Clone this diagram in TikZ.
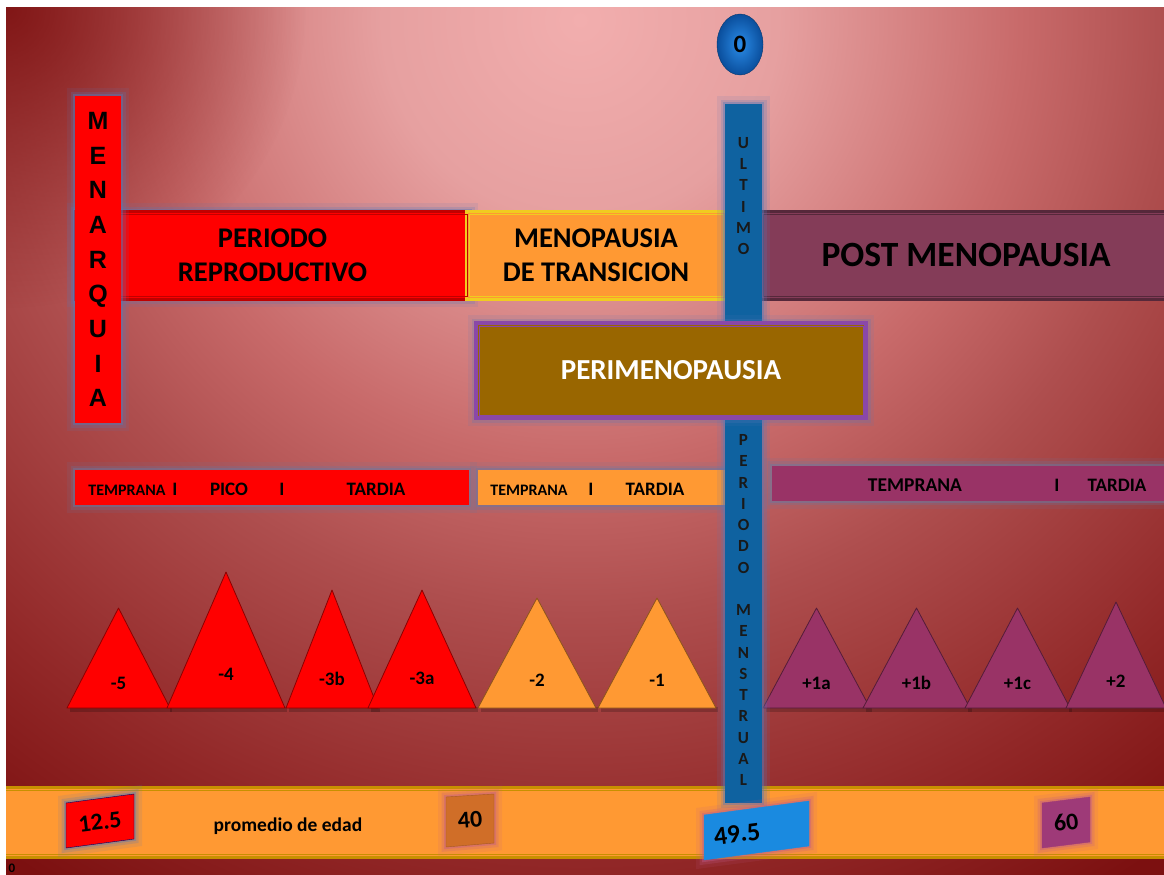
\documentclass[tikz,border=0pt]{standalone}
\usepackage{fontspec}
\setmainfont{Carlito}
\newfontfamily\arialfont{Liberation Sans}
\usepackage{tikz}
\usetikzlibrary{calc}
\usetikzlibrary{shapes.geometric,fadings}

\definecolor{bgA}{HTML}{F2AEAE}
\definecolor{bgB}{HTML}{E6A0A0}
\definecolor{bgC}{HTML}{C86A6A}
\definecolor{bgD}{HTML}{AE4E4E}
\definecolor{bgE}{HTML}{922828}
\definecolor{bgF}{HTML}{7C1010}
\definecolor{rojo}{HTML}{FF0000}
\definecolor{rojoosc}{HTML}{C00000}
\definecolor{naranja}{HTML}{FF9933}
\definecolor{amarillo}{HTML}{F0CC20}
\definecolor{vino}{HTML}{843C58}
\definecolor{vinoosc}{HTML}{56283A}
\definecolor{ocre}{HTML}{996600}
\definecolor{morado}{HTML}{8A48A8}
\definecolor{fucsia}{HTML}{993366}
\definecolor{azulbar}{HTML}{0F62A0}
\definecolor{azulglow}{HTML}{5878B8}
\definecolor{rosaglow}{HTML}{C05A8A}
\definecolor{oro}{HTML}{C89000}
\definecolor{tostado}{HTML}{D06E28}
\definecolor{celeste}{HTML}{1A8AE0}
\definecolor{ciruela}{HTML}{9E3A78}
\definecolor{bolaA}{HTML}{2A8CE8}
\definecolor{bolaB}{HTML}{0A4E9C}

\pgfdeclareradialshading{fondo}{\pgfpoint{0bp}{0bp}}{color(0bp)=(bgA); color(4.5bp)=(bgB); color(10bp)=(bgC); color(13.5bp)=(bgD); color(19bp)=(bgE); color(23bp)=(bgF); color(50bp)=(bgF)}
\tikzfading[name=suave, inner color=transparent!0, outer color=transparent!100]

\tikzset{
  glow/.style={preaction={draw=#1, line width=16pt, opacity=0.12},
    preaction={draw=#1, line width=9pt, opacity=0.22},
    preaction={draw=#1, line width=4pt, opacity=0.4}},
  stage/.style={fill=#1, line width=3pt, inner sep=0pt, align=center,
    font=\bfseries\fontsize{28.5}{34}\selectfont},
  frame/.style={draw=#1, line width=0.8pt},
  band/.style={fill=#1, minimum height=35pt, inner sep=0pt},
  lbl/.style={font=\bfseries\fontsize{19}{19}\selectfont, inner sep=0pt},
  small/.style={font=\bfseries\fontsize{16}{16}\selectfont, inner sep=0pt},
  tri/.style={fill=#1, draw=#1!55!black, line width=0.8pt, line join=round},
  num/.style={font=\bfseries\fontsize{24}{24}\selectfont, inner sep=0pt, text=black},
  letters/.style={font=\bfseries\fontsize{17}{21.25}\selectfont, align=center, inner sep=0pt, text=black!90},
}

\begin{document}
\begin{tikzpicture}[x=1pt, y=-1pt]
\useasboundingbox (0,0) rectangle (1164,875);
\begin{scope}
\clip (6,8) rectangle (1164,875);
\shade[shading=fondo] (580,20) circle (1100);
\fill[bgF, path fading=suave, fill opacity=0.9] (6,8) circle (300);

% etapas
\node[stage=rojo, draw=rojoosc, glow=azulglow, minimum width=395pt, minimum height=88pt] (repro) at (272.5,255) {PERIODO\\REPRODUCTIVO};
\node[stage=naranja, draw=amarillo, minimum width=260pt, minimum height=88pt] (trans) at (596,255) {MENOPAUSIA\\DE TRANSICION};
\node[stage=vino, draw=vinoosc, minimum width=412pt, minimum height=88pt, font=\bfseries\fontsize{35.5}{35.5}\selectfont] (post) at (966,255) {POST MENOPAUSIA};
\foreach \n/\c in {repro/rojoosc, trans/amarillo, post/vinoosc}
  \draw[frame=\c] ($(\n.north west)+(4.5,4.5)$) rectangle ($(\n.south east)+(-4.5,-4.5)$);

\node[fill=rojo, glow=azulglow, minimum width=46pt, minimum height=327pt, inner sep=0pt, align=center,
  font=\arialfont\bfseries\fontsize{25}{34.7}\selectfont] (menarq) at (98,259.5) {M\\E\\N\\A\\R\\Q\\U\\I\\A};

% bandas
\node[band=rojo, glow=azulglow!70!gray, minimum width=394pt] (bandR) at (272,487.5) {};
\node[band=naranja, glow=azulglow!70!gray, minimum width=248pt] (bandN) at (602,487.5) {};
\node[band=fucsia, glow=azulglow!70!gray, minimum width=403pt] (bandF) at (973.5,483) {};
\node[small] (tR1) at (127,490) {TEMPRANA};
\node[lbl] (tR2) at (175,489) {I};
\node[lbl] (tR3) at (229,489) {PICO};
\node[lbl] (tR4) at (282,489) {I};
\node[lbl] (tR5) at (376,489) {TARDIA};
\node[small] (tN1) at (529,490) {TEMPRANA};
\node[lbl] (tN2) at (591,489) {I};
\node[lbl] (tN3) at (655,489) {TARDIA};
\node[lbl, font=\bfseries\fontsize{19.5}{19.5}\selectfont] (tF1) at (915,485) {TEMPRANA};
\node[lbl] (tF2) at (1057,485) {I};
\node[lbl] (tF3) at (1117,485) {TARDIA};

% etapas STRAW
\foreach \l/\r/\t/\lab/\c [count=\i] in {67/170/608/-5/rojo, 167/285/572/-4/rojo, 286/378/590/-3b/rojo,
    368/476/590/-3a/rojo, 478/596/598/-2/naranja, 598/716/598/-1/naranja, 763/870/608/+1a/fucsia,
    863/970/608/+1b/fucsia, 965/1070/608/+1c/fucsia, 1066/1166/602/+2/fucsia}{
  \pgfmathsetmacro\m{(\l+\r)/2}
  \pgfmathsetmacro\ly{708-0.25*(708-\t)}
  \fill[black, opacity=0.2] (\l+3,707) rectangle (\r+2,712);
  \filldraw[tri=\c] (\l,708) -- (\m,\t) -- (\r,708) -- cycle;
  \node[lbl, font=\bfseries\fontsize{19}{19}\selectfont] (tri\i) at (\m,\ly) {\lab};
}

% edad
\node[fill=naranja, draw=oro, line width=3pt, minimum width=1180pt, minimum height=70pt, inner sep=0pt] (edad) at (592,822) {};
\draw[frame=oro] ($(edad.north west)+(4.5,4.5)$) rectangle ($(edad.south east)+(-4.5,-4.5)$);

% ultimo periodo menstrual
\node[fill=azulbar, glow=azulglow, minimum width=37pt, minimum height=699pt, inner sep=0pt] (vbar) at (743.5,453.5) {};
\node[letters] (ultimo) at (743.5,196) {U\\L\\T\\I\\M\\O};
\node[letters] (menst) at (743.5,610) {P\\E\\R\\I\\O\\D\\O\\[21.25pt]M\\E\\N\\S\\T\\R\\U\\A\\L};

\node[stage=ocre, draw=morado, line width=4pt, glow=azulglow, minimum width=390pt, minimum height=95pt, text=white,
  font=\bfseries\fontsize{29}{29}\selectfont] (peri) at (671,370.5) {PERIMENOPAUSIA};
\draw[frame=morado] ($(peri.north west)+(5,5)$) rectangle ($(peri.south east)+(-5,-5)$);

% promedios
\filldraw[fill=rojo, draw=blue!40!black, glow=azulglow] (66,803) -- (134,794) -- (134,839) -- (66,848) -- cycle;
\node[num, rotate=7] (b125) at (100,822) {12.5};
\node[font=\bfseries\fontsize{19.5}{19.5}\selectfont, inner sep=0pt] (prom) at (288,826) {promedio de edad};
\filldraw[fill=tostado, draw=tostado!80!black, glow=rosaglow] (446,797) -- (494,794) -- (494,843) -- (446,847) -- cycle;
\node[num, rotate=4] (b40) at (470,820) {40};
\filldraw[fill=celeste, draw=celeste, glow=rosaglow] (704,815) -- (809,801) -- (809,846) -- (704,860) -- cycle;
\node[num, rotate=7.5, font=\bfseries\fontsize{26}{26}\selectfont] (b495) at (737,834) {49.5};
\filldraw[fill=ciruela, draw=ciruela, glow=rosaglow] (1042,803) -- (1090,797) -- (1090,842) -- (1042,848) -- cycle;
\node[num, rotate=7] (b60) at (1066,822) {60};

\node[ellipse, minimum width=46pt, minimum height=61pt, inner sep=0pt, inner color=bolaA, outer color=bolaB,
  draw=bolaB!70!black, font=\bfseries\fontsize{25}{25}\selectfont] (cero) at (740,44.5) {0};
\node[font=\bfseries\fontsize{13}{13}\selectfont, inner sep=0pt] (origen) at (12,868) {0};
\end{scope}
\end{tikzpicture}
\end{document}
